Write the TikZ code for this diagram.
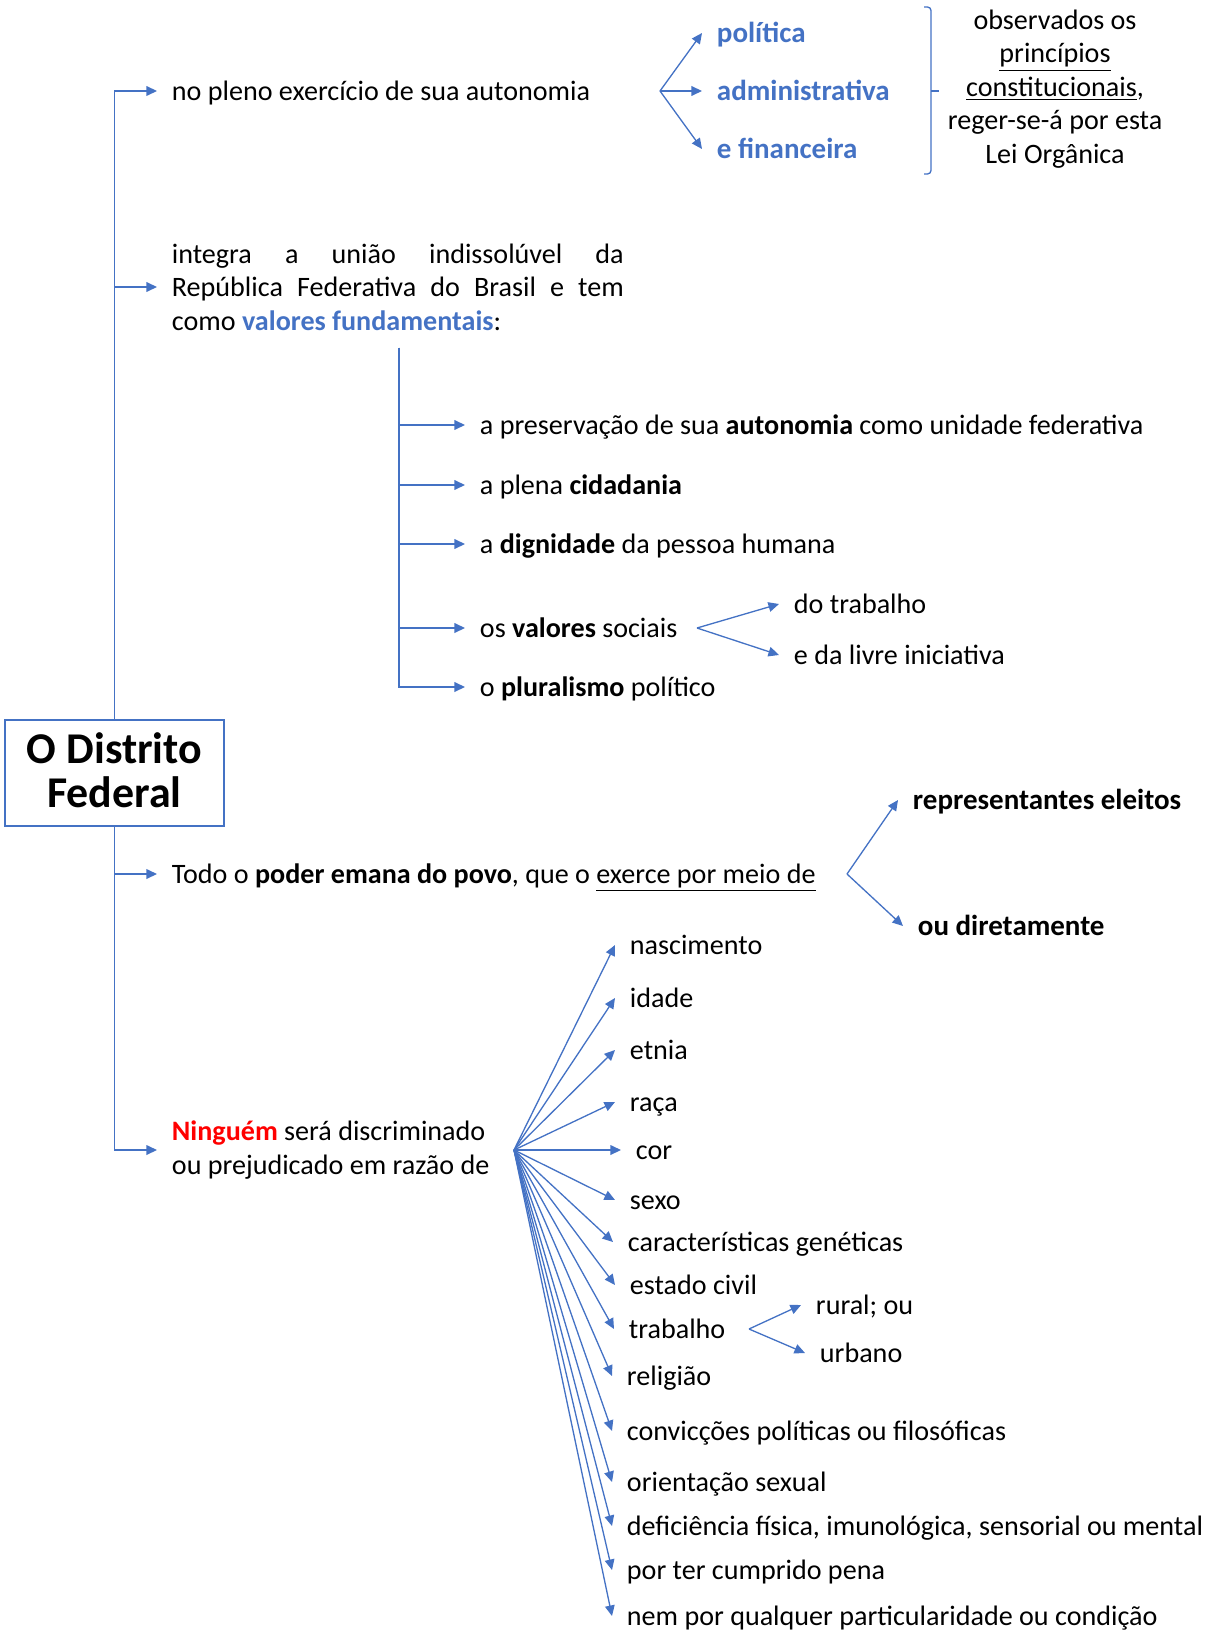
\documentclass[tikz,border=0pt]{standalone}
\usepackage{fontspec}
\setmainfont{Carlito}
\usepackage{xcolor}
\usepackage{tikz}
\usetikzlibrary{arrows.meta}
\definecolor{azulcl}{HTML}{4472C4}

\begin{document}
\begin{tikzpicture}[x=0.02cm,y=-0.02cm,font=\fontsize{16}{19}\selectfont]
\tikzstyle{seta}=[draw=azulcl,line width=0.75pt,-{Triangle[length=6pt,width=5.5pt]}]
\tikzstyle{txt}=[anchor=west,inner sep=0pt,outer sep=8.5pt,text height=13.2pt,text depth=2pt]
\tikzstyle{realce}=[txt,text=azulcl,font=\fontsize{16.5}{19}\selectfont\bfseries]
\tikzstyle{forte}=[txt,font=\fontsize{16.5}{19}\selectfont\bfseries]
\useasboundingbox (0,0) rectangle (1215,1638);
\path (114.5,773) node[draw=azulcl,line width=0.8pt,minimum width=4.38cm,minimum height=2.12cm,align=center,inner sep=0pt,font=\fontsize{25}{25}\selectfont\bfseries] (v0) {O Distrito\\Federal\rule[-3.4pt]{0pt}{0pt}};
\path (157,91) node[txt] (a1) {no pleno exercício de sua autonomia};
\path (157,287) node[anchor=west,inner sep=0pt,outer sep=8.5pt,text width=9.04cm,align=justify] (a2) {integra a união indissolúvel da\linebreak República Federativa do Brasil e tem\linebreak como \textcolor{azulcl}{\textbf{valores fundamentais}}:};
\path (157,874) node[txt] (a3) {Todo o \textbf{poder emana do povo}, que o \underline{exerce por meio de}};
\path (157,1150) node[anchor=west,inner sep=0pt,outer sep=8.5pt,align=left] (a4) {\textcolor{red}{\textbf{Ninguém}} será discriminado\\ou prejudicado em razão de};
\draw[seta] (v0.north) |- (a1.west);
\draw[seta] (v0.north) |- (a2.west);
\draw[seta] (v0.south) |- (a3.west);
\draw[seta] (v0.south) |- (a4.west);

\coordinate (f1) at (660,91);
\path (702,33) node[realce] (p1) {política};
\path (702,91) node[realce] (p2) {administrativa};
\path (702,149) node[realce] (p3) {e financeira};
\draw[seta] (f1) -- (p1.west);
\draw[seta] (f1) -- (p2.west);
\draw[seta] (f1) -- (p3.west);
\draw[azulcl,line width=0.75pt,rounded corners=2pt] (924,7) -| (931,174) -- (924,174);
\draw[azulcl,line width=0.75pt] (931,91) -- (939,91);
\path (1055,89) node[align=center,inner sep=0pt] (r1) {observados os\\\underline{princípios}\\\underline{constitucionais},\\reger-se-á por esta\\Lei Orgânica};

\coordinate (c2) at (399,348);
\path (465,425) node[txt] (b1) {a preservação de sua \textbf{autonomia} como unidade federativa};
\path (465,485) node[txt] (b2) {a plena \textbf{cidadania}};
\path (465,544) node[txt] (b3) {a \textbf{dignidade} da pessoa humana};
\path (465,628) node[txt] (b4) {os \textbf{valores} sociais};
\path (465,687) node[txt] (b5) {o \textbf{pluralismo} político};
\draw[seta] (c2) |- (b1.west);
\draw[seta] (c2) |- (b2.west);
\draw[seta] (c2) |- (b3.west);
\draw[seta] (c2) |- (b4.west);
\draw[seta] (c2) |- (b5.west);
\coordinate (f2) at (697,628);
\path (779,604) node[txt] (s1) {do trabalho};
\path (779,655) node[txt] (s2) {e da livre iniciativa};
\draw[seta] (f2) -- (s1.west);
\draw[seta] (f2) -- (s2.west);

\coordinate (f3) at (847,874);
\path (898,800) node[forte] (t1) {representantes eleitos};
\path (903,926) node[forte] (t2) {ou diretamente};
\draw[seta] (f3) -- (t1.west);
\draw[seta] (f3) -- (t2.west);

\coordinate (f4) at (514,1150);
\path (615,945) node[txt] (d1) {nascimento};
\path (615,998) node[txt] (d2) {idade};
\path (615,1050) node[txt] (d3) {etnia};
\path (615,1102) node[txt] (d4) {raça};
\path (621,1150) node[txt] (d5) {cor};
\path (615,1200) node[txt] (d6) {sexo};
\path (613,1242) node[txt] (d7) {características genéticas};
\path (615,1285) node[txt] (d8) {estado civil};
\path (614,1329) node[txt] (d9) {trabalho};
\path (612,1376) node[txt] (d10) {religião};
\path (612,1431) node[txt] (d11) {convicções políticas ou filosóficas};
\path (612,1482) node[txt] (d12) {orientação sexual};
\path (612,1526) node[txt] (d13) {deficiência física, imunológica, sensorial ou mental};
\path (612,1570) node[txt] (d14) {por ter cumprido pena};
\path (612,1616) node[txt] (d15) {nem por qualquer particularidade ou condição};
\draw[seta] (f4) -- (d1.west);
\draw[seta] (f4) -- (d2.west);
\draw[seta] (f4) -- (d3.west);
\draw[seta] (f4) -- (d4.west);
\draw[seta] (f4) -- (d5.west);
\draw[seta] (f4) -- (d6.west);
\draw[seta] (f4) -- (d7.west);
\draw[seta] (f4) -- (d8.west);
\draw[seta] (f4) -- (d9.west);
\draw[seta] (f4) -- (d10.west);
\draw[seta] (f4) -- (d11.west);
\draw[seta] (f4) -- (d12.west);
\draw[seta] (f4) -- (d13.west);
\draw[seta] (f4) -- (d14.west);
\draw[seta] (f4) -- (d15.west);
\coordinate (f5) at (749,1329);
\path (801,1305) node[txt] (u1) {rural; ou};
\path (805,1353) node[txt] (u2) {urbano};
\draw[seta] (f5) -- (u1.west);
\draw[seta] (f5) -- (u2.west);
\end{tikzpicture}
\end{document}
